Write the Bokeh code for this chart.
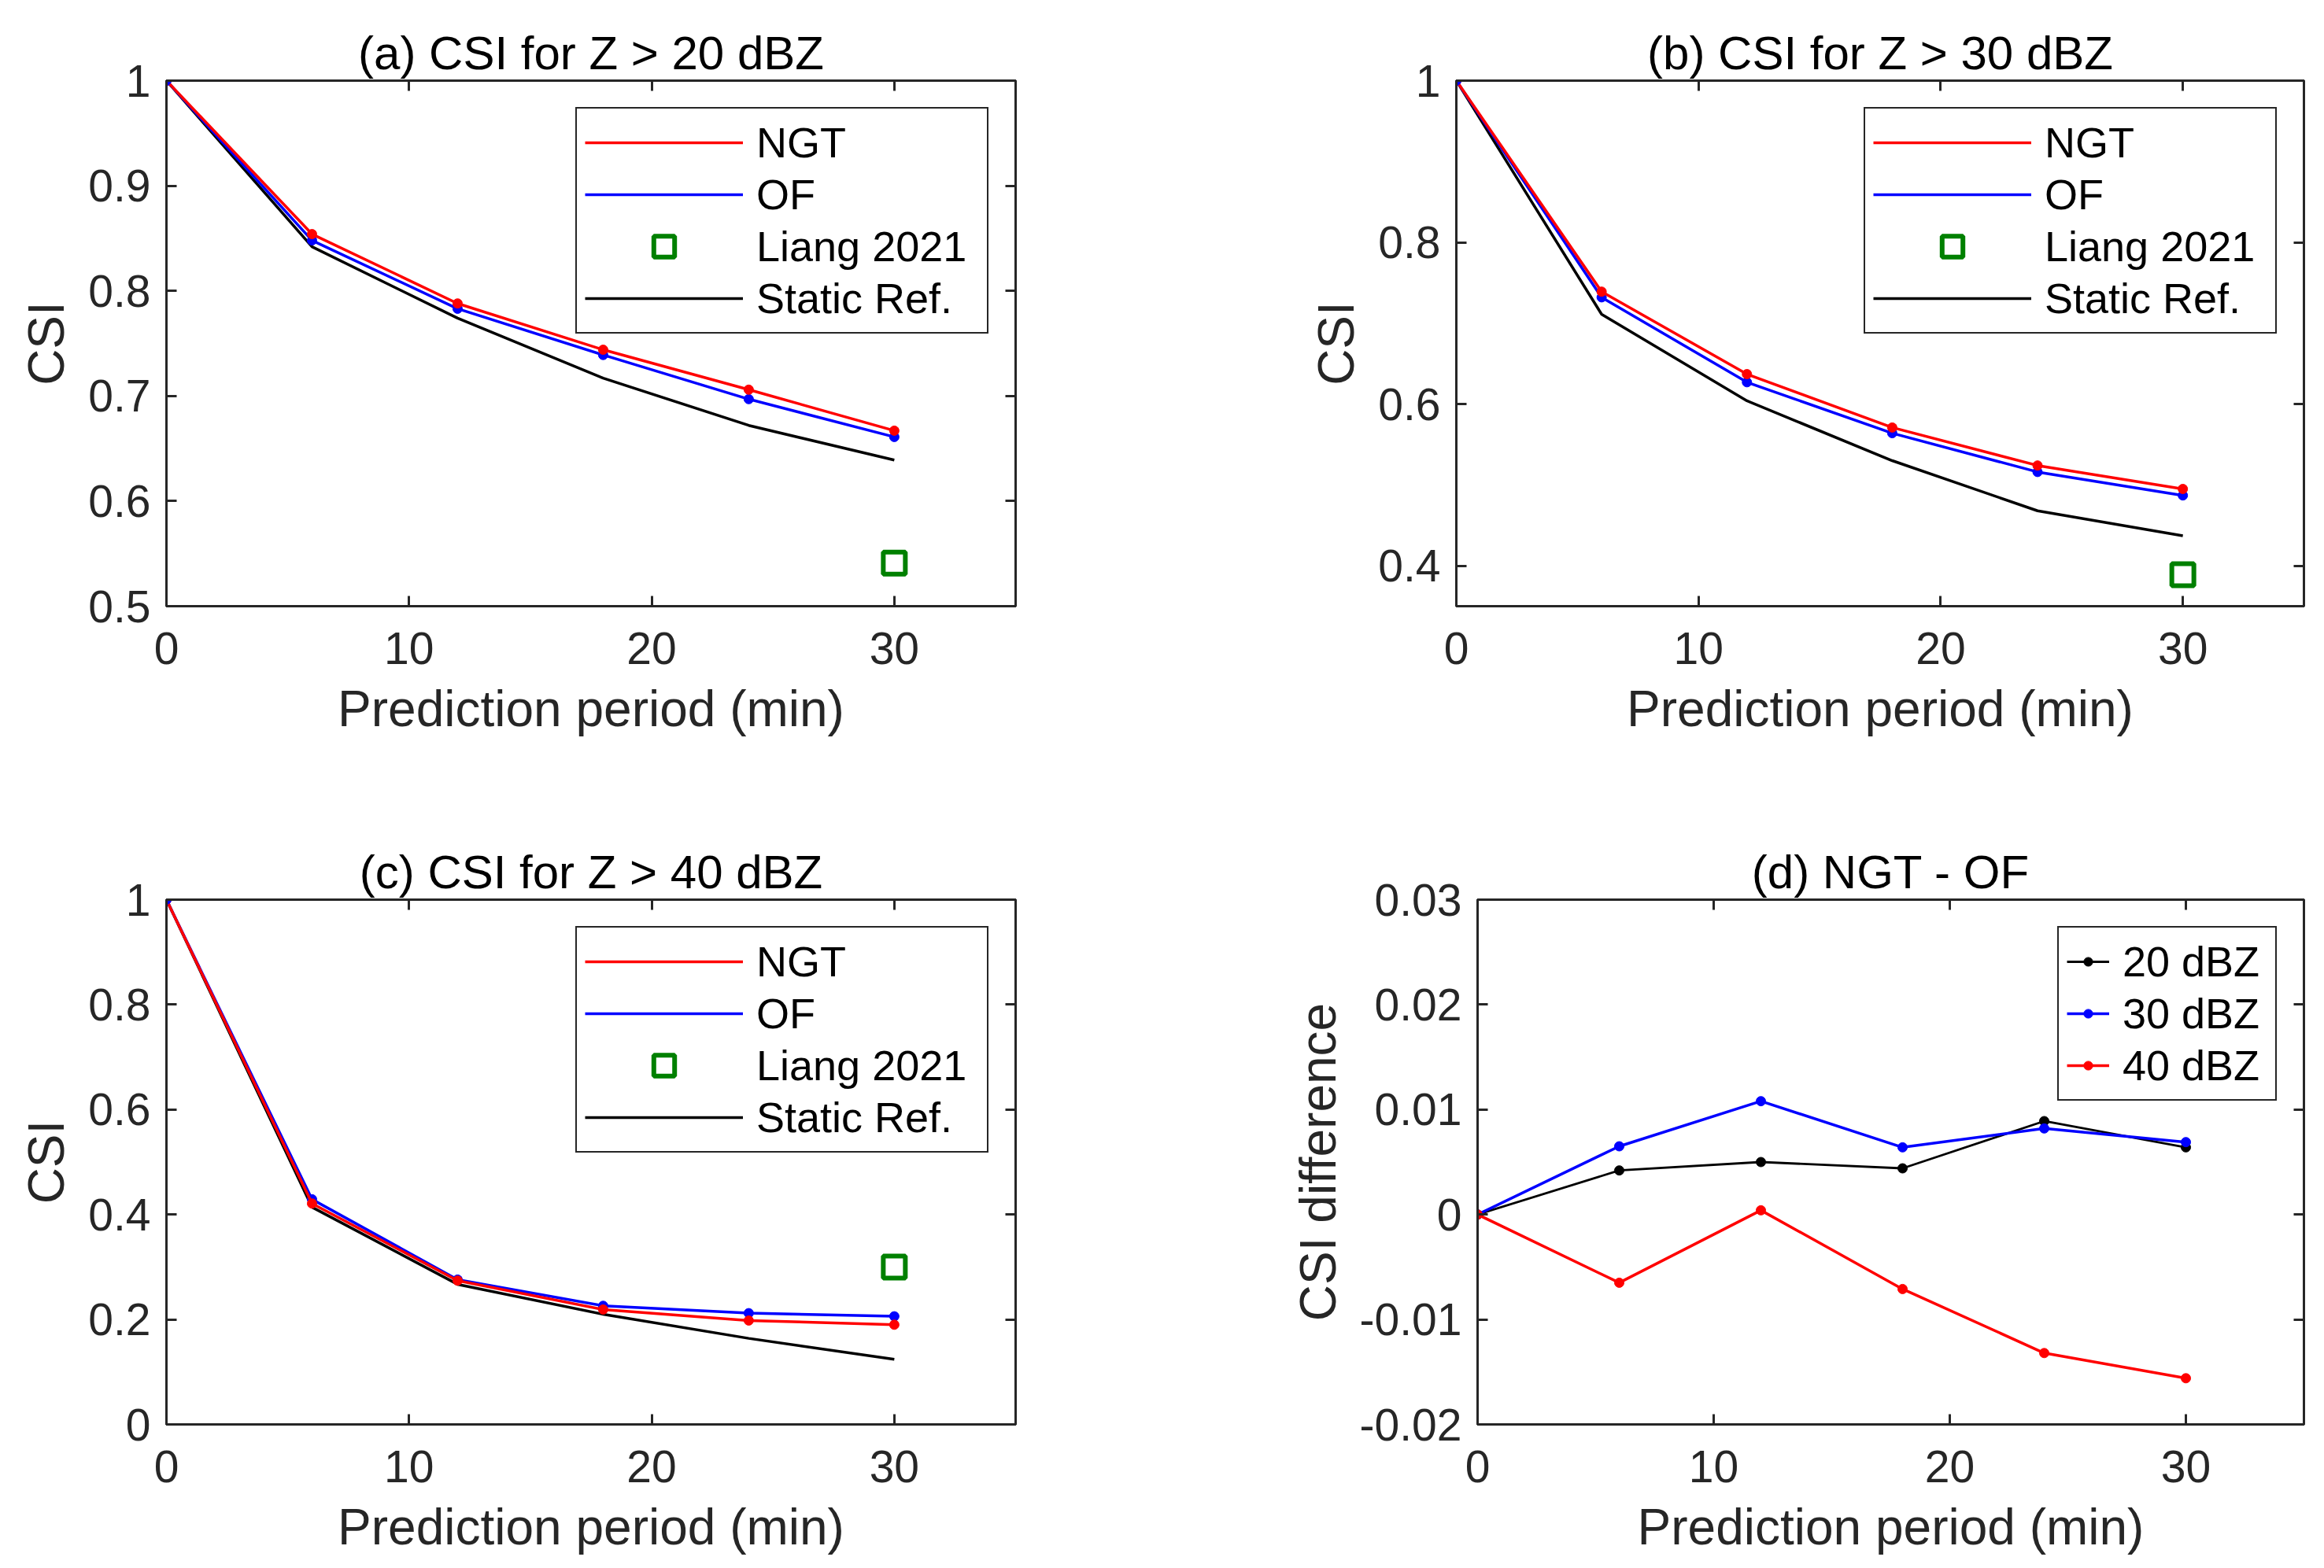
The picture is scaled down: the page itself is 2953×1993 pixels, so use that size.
from bokeh.plotting import figure
from bokeh.models import (LinearAxis, FixedTicker, CustomJSTickFormatter, Range1d,
                          Legend, LegendItem)
from bokeh.layouts import row, column
from bokeh.embed import file_html
from bokeh.resources import INLINE

# ---------------- data ----------------
minutes = [0, 6, 12, 18, 24, 30]
liang_x = [30]

ngt_20 = [1.0, 0.854, 0.788, 0.744, 0.706, 0.667]
of_20 = [1.0, 0.848, 0.783, 0.739, 0.697, 0.661]
static_20 = [1.0, 0.842, 0.774, 0.717, 0.672, 0.639]
liang_20 = [0.541]

ngt_30 = [1.0, 0.739, 0.637, 0.571, 0.524, 0.495]
of_30 = [1.0, 0.732, 0.627, 0.564, 0.516, 0.487]
static_30 = [1.0, 0.711, 0.604, 0.530, 0.468, 0.437]
liang_30 = [0.389]

ngt_40 = [1.0, 0.421, 0.274, 0.219, 0.198, 0.190]
of_40 = [1.0, 0.429, 0.276, 0.226, 0.212, 0.206]
static_40 = [1.0, 0.414, 0.267, 0.210, 0.164, 0.124]
liang_40 = [0.300]

diff_20 = [0.0, 0.0042, 0.0050, 0.0044, 0.0089, 0.0064]
diff_30 = [0.0, 0.0065, 0.0108, 0.0064, 0.0082, 0.0069]
diff_40 = [0.0, -0.0065, 0.0004, -0.0071, -0.0132, -0.0156]

x_ticks = [0, 10, 20, 30]
yticks_a = [0.5, 0.6, 0.7, 0.8, 0.9, 1.0]
yticks_b = [0.4, 0.6, 0.8, 1.0]
yticks_c = [0.0, 0.2, 0.4, 0.6, 0.8, 1.0]
yticks_d = [-0.02, -0.01, 0.0, 0.01, 0.02, 0.03]

legend_labels = ["NGT", "OF", "Liang 2021", "Static Ref."]
diff_labels = ["20 dBZ", "30 dBZ", "40 dBZ"]

# ---------------- style ----------------
FONT = "Liberation Sans"
AX = "#262626"
RED, BLUE, GREEN, BLACK = "#ff0000", "#0000ff", "#008000", "#000000"
LW = 3.5
DOT = 12

fmt = CustomJSTickFormatter(code="return String(Math.round(tick*1000)/1000);")


def style_axis(ax, ticks, show):
    ax.ticker = FixedTicker(ticks=ticks)
    ax.formatter = fmt
    ax.axis_line_color = AX
    ax.axis_line_width = 3
    ax.major_tick_line_color = AX
    ax.major_tick_line_width = 3
    ax.major_tick_in = 13
    ax.major_tick_out = 0
    ax.minor_tick_line_color = None
    if show:
        ax.major_label_text_font = FONT
        ax.major_label_text_font_size = "57px"
        ax.major_label_text_color = AX
        ax.axis_label_text_font = FONT
        ax.axis_label_text_font_size = "64px"
        ax.axis_label_text_font_style = "normal"
        ax.axis_label_text_color = AX
    else:
        ax.major_label_text_font_size = "1px"
        ax.major_label_text_color = None
        ax.major_label_text_alpha = 0
        ax.major_label_standoff = 0
        ax.axis_label = None


def make_fig(title, ylabel, yr, yticks, width, height, bl, br, bt, bb):
    p = figure(width=width, height=height, x_range=Range1d(0, 35), y_range=Range1d(*yr),
               output_backend="svg", toolbar_location=None,
               min_border_left=bl, min_border_right=br, min_border_top=bt,
               min_border_bottom=bb, title=title)
    p.title.text_font = FONT
    p.title.text_font_size = "60px"
    p.title.text_font_style = "normal"
    p.title.text_color = "#000000"
    p.title.align = "center"
    p.title.standoff = 4
    p.xgrid.visible = False
    p.ygrid.visible = False
    p.outline_line_color = AX
    p.outline_line_width = 3
    p.background_fill_color = "white"
    p.border_fill_color = "white"
    style_axis(p.xaxis[0], x_ticks, True)
    style_axis(p.yaxis[0], yticks, True)
    p.xaxis[0].axis_label = "Prediction period (min)"
    p.xaxis[0].major_label_standoff = 33
    p.xaxis[0].axis_label_standoff = 18
    p.yaxis[0].axis_label = ylabel
    p.yaxis[0].major_label_standoff = 20
    p.yaxis[0].axis_label_standoff = 14
    top = LinearAxis()
    right = LinearAxis()
    style_axis(top, x_ticks, False)
    style_axis(right, yticks, False)
    p.add_layout(top, "above")
    p.add_layout(right, "right")
    return p


def style_legend(lg, gw, gh, lw):
    lg.location = "top_right"
    lg.margin = 34
    lg.padding = 10
    lg.spacing = 0
    lg.glyph_width = gw
    lg.glyph_height = gh
    lg.label_height = 66
    lg.label_width = lw
    lg.label_standoff = 17
    lg.label_text_font = FONT
    lg.label_text_font_size = "54px"
    lg.label_text_color = "#000000"
    lg.border_line_color = AX
    lg.border_line_width = 2.5
    lg.border_line_alpha = 1.0
    lg.background_fill_color = "white"
    lg.background_fill_alpha = 1.0


def csi_panel(title, yr, yticks, ngt, of, static, liang, width, height, bl, br, bt, bb):
    p = make_fig(title, "CSI", yr, yticks, width, height, bl, br, bt, bb)
    r_static = p.line(minutes, static, line_color=BLACK, line_width=LW)
    r_of = p.line(minutes, of, line_color=BLUE, line_width=LW)
    p.scatter(minutes, of, marker="circle", size=DOT, color=BLUE)
    r_ngt = p.line(minutes, ngt, line_color=RED, line_width=LW)
    p.scatter(minutes, ngt, marker="circle", size=DOT, color=RED)
    p.scatter(minutes[:1], of[:1], marker="circle", size=DOT, color=BLUE)
    r_liang = p.scatter(liang_x, liang, marker="square", size=28, fill_color=None,
                        line_color=GREEN, line_width=6)
    lg = Legend(items=[LegendItem(label=legend_labels[0], renderers=[r_ngt]),
                       LegendItem(label=legend_labels[1], renderers=[r_of]),
                       LegendItem(label=legend_labels[2], renderers=[r_liang]),
                       LegendItem(label=legend_labels[3], renderers=[r_static])])
    style_legend(lg, 201, 66, 283)
    p.add_layout(lg)
    return p


# Row 1: height 1040 ; Row 2: height 944
pa = csi_panel("(a) CSI for Z > 20 dBZ", (0.5, 1.0), yticks_a, ngt_20, of_20, static_20, liang_20,
               1560, 1040, 211, 270, 102, 270)
pb = csi_panel("(b) CSI for Z > 30 dBZ", (0.35, 1.0), yticks_b, ngt_30, of_30, static_30, liang_30,
               1377, 1040, 290, 10, 102, 270)
pc = csi_panel("(c) CSI for Z > 40 dBZ", (0.0, 1.0), yticks_c, ngt_40, of_40, static_40, liang_40,
               1560, 944, 211, 270, 103, 174)

pd = make_fig("(d) NGT - OF", "CSI difference", (-0.02, 0.03), yticks_d, 1377, 944, 317, 10, 103, 174)
l20 = pd.line(minutes, diff_20, line_color=BLACK, line_width=LW * 0.8)
s20 = pd.scatter(minutes, diff_20, marker="circle", size=DOT, color=BLACK)
l30 = pd.line(minutes, diff_30, line_color=BLUE, line_width=LW)
s30 = pd.scatter(minutes, diff_30, marker="circle", size=DOT, color=BLUE)
l40 = pd.line(minutes, diff_40, line_color=RED, line_width=LW)
s40 = pd.scatter(minutes, diff_40, marker="circle", size=DOT, color=RED)
lgd = Legend(items=[LegendItem(label=diff_labels[0], renderers=[l20, s20]),
                    LegendItem(label=diff_labels[1], renderers=[l30, s30]),
                    LegendItem(label=diff_labels[2], renderers=[l40, s40])])
style_legend(lgd, 54, 28, 184)
pd.add_layout(lgd)

layout = column(row(pa, pb), row(pc, pd))
open("out.html", "w").write(file_html(layout, INLINE))
